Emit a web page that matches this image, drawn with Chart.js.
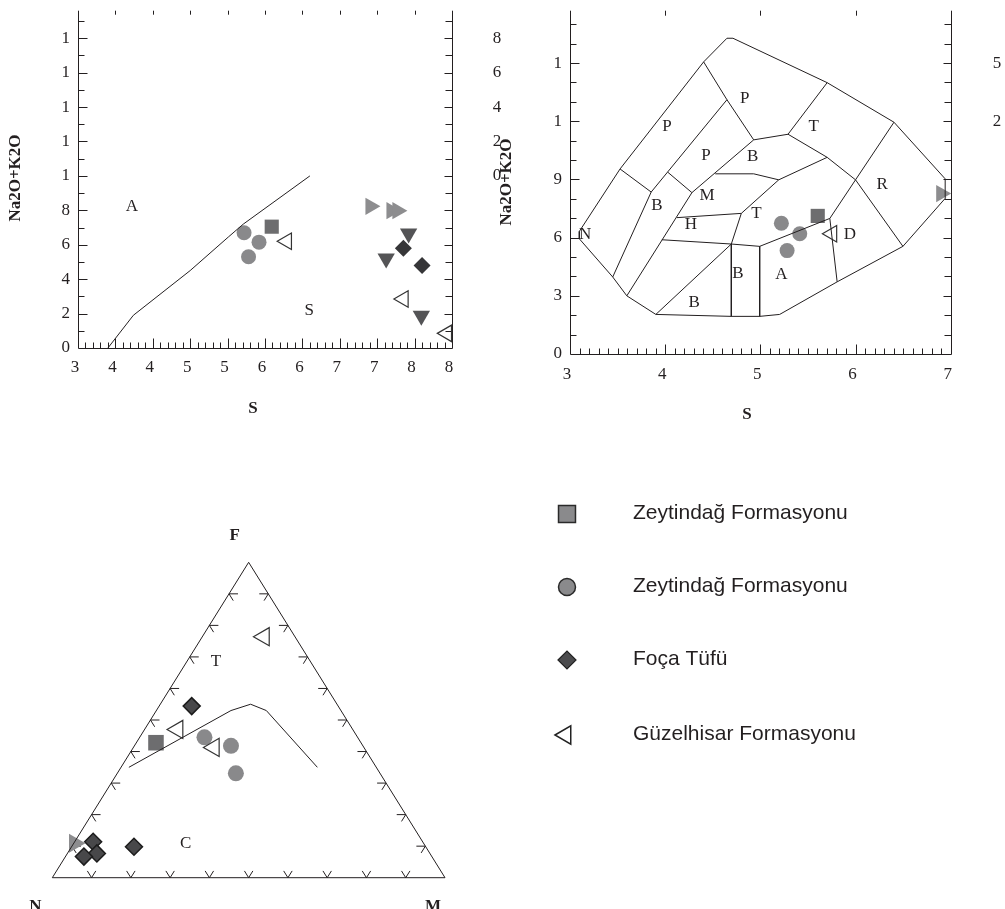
<!DOCTYPE html>
<html>
<head>
<meta charset="utf-8">
<script src="https://cdn.jsdelivr.net/npm/chart.js@4.4.0/dist/chart.umd.min.js"></script>
<style>
  body { margin: 0; background: #fff; width: 1005px; height: 909px; overflow: hidden; position: relative; }
  canvas { position: absolute; }
</style>
</head>
<body>
<canvas id="tasLeft" width="520" height="440" style="left:0;top:0"></canvas>
<canvas id="tasRight" width="515" height="440" style="left:490px;top:0"></canvas>
<canvas id="afm" width="1005" height="449" style="left:0;top:460px"></canvas>
<script>
// ---- left TAS panel (labels are cut to one character, as in the source figure)
const leftXTicks = [35, 40, 45, 50, 55, 60, 65, 70, 75, 80, 85]
const leftXLabels = ['3', '4', '4', '5', '5', '6', '6', '7', '7', '8', '8']
const leftYTicks = [0, 2, 4, 6, 8, 10, 12, 14, 16, 18]
const leftYLabels = ['0', '2', '4', '6', '8', '1', '1', '1', '1', '1']
const leftYSpillTicks = [10, 12, 14, 16, 18]
const leftYSpill = ['0', '2', '4', '6', '8']
const leftDivider = [[39, 0], [42.4, 1.9], [50, 4.5], [55.1, 6.45], [57.1, 7.2], [66, 10]]
const leftFieldNames = [[42.2, 8.2, 'A'], [65.9, 2.2, 'S']]

const leftSquare = [[60.9, 7.05]]
const leftCircles = [[57.2, 6.7], [59.2, 6.15], [57.8, 5.3]]
const leftDiamonds = [[78.5, 5.8], [81, 4.8]]
const leftOpenTri = [[62.9, 6.2], [78.5, 2.85], [84.3, 0.85]]
const leftRightTri = [[74.1, 8.23], [76.9, 7.98], [77.7, 7.98]]
const leftDownTri = [[79.2, 6.65], [76.2, 5.2], [80.9, 1.88]]

// ---- right TAS panel
const rightXTicks = [3, 4, 5, 6, 7]
const rightXLabels = ['3', '4', '5', '6', '7']
const rightYTicks = [0, 3, 6, 9, 12, 15]
const rightYLabels = ['0', '3', '6', '9', '1', '1']
const rightYSpillTicks = [12, 15]
const rightYSpill = ['2', '5']

const rightOutline = [[3.098, 5.94], [3.449, 3.97], [3.597, 3.0], [3.902, 2.04], [4.695, 1.94], [4.993, 1.94],
  [5.203, 2.04], [5.807, 3.72], [6.498, 5.55], [6.947, 8.05], [6.942, 9.03], [6.404, 11.95], [5.702, 13.99],
  [4.712, 16.28], [4.649, 16.28], [4.404, 15.06], [3.526, 9.54], [3.098, 6.32], [3.098, 5.94]]
const rightFieldLines = [
  [[3.526, 9.54], [3.853, 8.35], [3.449, 3.97]],
  [[3.853, 8.35], [4.649, 13.11], [4.404, 15.06]],
  [[4.649, 13.11], [4.93, 11.04], [5.291, 11.33], [5.702, 13.99]],
  [[5.291, 11.33], [5.702, 10.14], [6.0, 8.98], [6.404, 11.95]],
  [[6.0, 8.98], [6.498, 5.55]],
  [[4.028, 9.37], [4.281, 8.32]],
  [[4.281, 8.32], [4.93, 11.04]],
  [[4.281, 8.32], [3.597, 3.0]],
  [[4.526, 9.29], [4.93, 9.29], [5.193, 8.98]],
  [[5.702, 10.14], [5.193, 8.98], [4.8, 7.25], [4.695, 5.67], [3.902, 2.04]],
  [[4.123, 7.03], [4.8, 7.25]],
  [[3.965, 5.89], [4.695, 5.67], [4.993, 5.55], [5.73, 6.99], [6.0, 8.98]],
  [[4.695, 5.67], [4.695, 1.94]],
  [[4.993, 5.55], [4.993, 1.94]],
  [[5.73, 6.99], [5.807, 3.72]]
]
const rightFieldNames = [[4.018, 11.72, 'P'], [4.835, 13.19, 'P'], [4.428, 10.22, 'P'], [5.561, 11.72, 'T'],
  [4.919, 10.19, 'B'], [3.913, 7.68, 'B'], [4.439, 8.19, 'M'], [6.281, 8.73, 'R'], [4.958, 7.25, 'T'],
  [4.27, 6.69, 'H'], [3.158, 6.15, 'N'], [5.94, 6.15, 'D'], [4.765, 4.14, 'B'], [5.221, 4.11, 'A'], [4.305, 2.66, 'B']]

const rightSquare = [[5.603, 7.12]]
const rightCircles = [[5.221, 6.74], [5.414, 6.2], [5.281, 5.33]]
const rightOpenTri = [[5.752, 6.2]]
const rightRightTri = [[6.9, 8.27]]

// ---- AFM ternary, [F, M] in percent (N = rest)
const afmTicks = [10, 20, 30, 40, 50, 60, 70, 80, 90]
const afmFrame = [[0, 0], [100, 0], [0, 100], [0, 0]]
const afmDivider = [[35, 2], [53, 19], [55, 23], [53, 28], [35, 50]]
const afmFieldNames = [[68.5, 7.4, 'T'], [10.7, 28.6, 'C']]

const afmSquare = [[42.8, 5.0]]
const afmCircles = [[44.5, 16.5], [41.8, 24.6], [33.1, 30.2]]
const afmDiamonds = [[54.4, 8.3], [11.4, 4.7], [7.7, 7.5], [6.7, 4.7], [9.8, 15.9]]
const afmOpenTri = [[76.4, 15.7], [47.0, 8.4], [41.3, 20.5]]
const afmRightTri = [[10.9, 0.2]]

const legendNames = ['Zeytindağ Formasyonu', 'Zeytindağ Formasyonu', 'Foça Tüfü', 'Güzelhisar Formasyonu']

const ink = '#231f20'
const serif = '"Liberation Serif", "Times New Roman", serif'
const sans = '"Liberation Sans", Arial, Helvetica, sans-serif'

function pts(arr) {
  return arr.map(([x, y]) => ({ x, y }))
}

function ternary(arr) {
  return arr.map(([f, m]) => ({ x: m / 100 + f / 200, y: f / 100 }))
}

function lineSet(data) {
  return { data, showLine: true, pointRadius: 0, borderColor: ink, borderWidth: 1, fill: false, clip: false }
}

function markerSet(data, style, radius, fill, border, borderWidth, rotation) {
  return {
    data,
    showLine: false,
    clip: false,
    pointStyle: style,
    pointRadius: radius,
    pointRotation: rotation || 0,
    pointBackgroundColor: fill,
    pointBorderColor: border || fill,
    pointBorderWidth: borderWidth || 0
  }
}

const openFill = 'rgba(255,255,255,0)'

function frameAxes(cfg) {
  return {
    id: 'frame',
    beforeDatasetsDraw(chart) {
      const { ctx, chartArea: a, scales: { x, y } } = chart
      const px = v => Math.round(x.getPixelForValue(v)) + 0.5
      const py = v => Math.round(y.getPixelForValue(v)) + 0.5
      const L = Math.round(a.left) + 0.5, R = Math.round(a.right) + 0.5, B = Math.round(a.bottom) + 0.5, T = a.top
      ctx.save()
      ctx.strokeStyle = ink
      ctx.lineWidth = 1
      ctx.beginPath()
      ctx.moveTo(L, T); ctx.lineTo(L, B); ctx.lineTo(R, B); ctx.lineTo(R, T)

      const x0 = cfg.xTicks[0], x1 = cfg.xTicks[cfg.xTicks.length - 1]
      const nx = Math.round((x1 - x0) / cfg.xMinor)
      for (let i = 1; i < nx; i++) {
        const v = x0 + i * cfg.xMinor
        const major = cfg.xTicks.some(t => Math.abs(t - v) < 1e-6)
        ctx.moveTo(px(v), B); ctx.lineTo(px(v), B - (major ? 10 : 6))
        if (major) { ctx.moveTo(px(v), T); ctx.lineTo(px(v), T + cfg.topTick) }
      }
      const ny = Math.floor(y.max / cfg.yMinor)
      for (let i = 1; i <= ny; i++) {
        const v = i * cfg.yMinor
        const major = cfg.yTicks.some(t => Math.abs(t - v) < 1e-6)
        ctx.moveTo(L, py(v)); ctx.lineTo(L + (major ? 9 : 6), py(v))
        ctx.moveTo(R, py(v)); ctx.lineTo(R - (major ? 8 : 7), py(v))
      }
      ctx.stroke()

      ctx.fillStyle = ink
      ctx.font = '17px ' + serif
      ctx.textAlign = 'center'
      ctx.textBaseline = 'middle'
      cfg.xTicks.forEach((v, i) => ctx.fillText(cfg.xLabels[i], x.getPixelForValue(v) - 3, a.bottom + cfg.xLabelGap))
      cfg.ySpillTicks.forEach((v, i) => ctx.fillText(cfg.ySpill[i], cfg.spillX, y.getPixelForValue(v)))
      ctx.textAlign = 'right'
      cfg.yTicks.forEach((v, i) => ctx.fillText(cfg.yLabels[i], a.left - 8, y.getPixelForValue(v)))

      ctx.textAlign = 'center'
      cfg.names.forEach(([vx, vy, s]) => ctx.fillText(s, x.getPixelForValue(vx), y.getPixelForValue(vy)))

      ctx.font = 'bold 17px ' + serif
      ctx.fillText('S', cfg.xTitle[0], cfg.xTitle[1])
      ctx.translate(cfg.yTitle[0], cfg.yTitle[1])
      ctx.rotate(-Math.PI / 2)
      ctx.fillText('Na2O+K2O', 0, 0)
      ctx.restore()
    }
  }
}

const baseOptions = (padding, xMin, xMax, yMin, yMax) => ({
  responsive: false,
  animation: false,
  events: [],
  layout: { padding },
  plugins: { legend: { display: false }, tooltip: { enabled: false } },
  scales: {
    x: { type: 'linear', min: xMin, max: xMax, display: false },
    y: { type: 'linear', min: yMin, max: yMax, display: false }
  }
})

// left TAS
new Chart(document.getElementById('tasLeft'), {
  type: 'scatter',
  data: {
    datasets: [
      lineSet(pts(leftDivider)),
      markerSet(pts(leftCircles), 'circle', 7.5, '#89898b'),
      markerSet(pts(leftSquare), 'rect', 10, '#6d6d6f'),
      markerSet(pts(leftOpenTri), 'triangle', 9.5, openFill, '#333', 1.2, -90),
      markerSet(pts(leftRightTri), 'triangle', 10, '#8d8d8f', null, 0, 90),
      markerSet(pts(leftDownTri), 'triangle', 10, '#545456', null, 0, 180),
      markerSet(pts(leftDiamonds), 'rectRot', 8.5, '#363638')
    ]
  },
  options: baseOptions({ left: 78, right: 68, top: 5, bottom: 92 }, 35, 85, 0, 19.6),
  plugins: [frameAxes({
    xTicks: leftXTicks, xLabels: leftXLabels, xMinor: 1, topTick: 4, xLabelGap: 20,
    yTicks: leftYTicks, yLabels: leftYLabels, yMinor: 1,
    ySpillTicks: leftYSpillTicks, ySpill: leftYSpill, spillX: 497,
    names: leftFieldNames, xTitle: [253, 409], yTitle: [16, 178]
  })]
})

// right TAS
new Chart(document.getElementById('tasRight'), {
  type: 'scatter',
  data: {
    datasets: [
      lineSet(pts(rightOutline)),
      ...rightFieldLines.map(l => lineSet(pts(l))),
      markerSet(pts(rightCircles), 'circle', 7.5, '#89898b'),
      markerSet(pts(rightSquare), 'rect', 10, '#6d6d6f'),
      markerSet(pts(rightOpenTri), 'triangle', 9.5, openFill, '#333', 1.2, -90),
      markerSet(pts(rightRightTri), 'triangle', 10, '#8d8d8f', null, 0, 90)
    ]
  },
  options: baseOptions({ left: 80, right: 54.3, top: 6, bottom: 86 }, 3, 7, 0, 17.7),
  plugins: [frameAxes({
    xTicks: rightXTicks, xLabels: rightXLabels, xMinor: 0.1, topTick: 5, xLabelGap: 21,
    yTicks: rightYTicks, yLabels: rightYLabels, yMinor: 1,
    ySpillTicks: rightYSpillTicks, ySpill: rightYSpill, spillX: 507,
    names: rightFieldNames, xTitle: [257, 415], yTitle: [17, 182]
  })]
})

// AFM ternary + legend
const afmDecor = {
  id: 'afmDecor',
  beforeDatasetsDraw(chart) {
    const { ctx, scales: { x, y } } = chart
    const toPx = ([f, m]) => {
      const p = ternary([[f, m]])[0]
      return [x.getPixelForValue(p.x), y.getPixelForValue(p.y)]
    }
    const pN = toPx([0, 0]), pF = toPx([100, 0]), pM = toPx([0, 100])
    const unit = (a, b) => {
      const dx = b[0] - a[0], dy = b[1] - a[1], d = Math.hypot(dx, dy)
      return [dx / d, dy / d]
    }
    const upLeftEdge = unit(pN, pF)
    const upRightEdge = unit(pM, pF)
    const arm = (p, dir, len) => { ctx.moveTo(p[0], p[1]); ctx.lineTo(p[0] + dir[0] * len, p[1] + dir[1] * len) }
    ctx.save()
    ctx.strokeStyle = ink
    ctx.lineWidth = 1
    ctx.beginPath()
    afmTicks.forEach(t => {
      const l = toPx([t, 0]), r = toPx([t, 100 - t]), b = toPx([0, t])
      arm(l, [1, 0], 9); arm(l, [-upRightEdge[0], -upRightEdge[1]], 8)
      arm(r, [-1, 0], 9); arm(r, [-upLeftEdge[0], -upLeftEdge[1]], 8)
      arm(b, upLeftEdge, 8); arm(b, upRightEdge, 8)
    })
    ctx.stroke()

    ctx.fillStyle = ink
    ctx.textAlign = 'center'
    ctx.textBaseline = 'middle'
    ctx.font = '17px ' + serif
    afmFieldNames.forEach(([f, m, s]) => {
      const p = toPx([f, m])
      ctx.fillText(s, p[0], p[1])
    })
    ctx.font = 'bold 17px ' + serif
    ctx.fillText('F', pF[0] - 14, pF[1] - 27)
    ctx.textBaseline = 'top'
    ctx.fillText('N', pN[0] - 17, pN[1] + 20)
    ctx.fillText('M', pM[0] - 12, pM[1] + 20)
    ctx.restore()
  },
  afterDraw(chart) {
    const ctx = chart.ctx
    const rows = [54, 127, 200, 275]
    const marks = [
      { pointStyle: 'rect', radius: 12, rotation: 0, fill: '#8a8a8c', stroke: '#2a2a2a', borderWidth: 1.5 },
      { pointStyle: 'circle', radius: 8.5, rotation: 0, fill: '#8a8a8c', stroke: '#2a2a2a', borderWidth: 1.5 },
      { pointStyle: 'rectRot', radius: 9, rotation: 0, fill: '#4b4b4d', stroke: '#222', borderWidth: 1.2 },
      { pointStyle: 'triangle', radius: 10.5, rotation: -90, fill: openFill, stroke: '#222', borderWidth: 1.5 }
    ]
    ctx.save()
    marks.forEach((m, i) => {
      ctx.fillStyle = m.fill
      ctx.strokeStyle = m.stroke
      ctx.lineWidth = m.borderWidth
      Chart.helpers.drawPoint(ctx, m, i === 3 ? 565.5 : 567, rows[i])
    })
    ctx.fillStyle = ink
    ctx.font = '21px ' + sans
    ctx.textAlign = 'left'
    ctx.textBaseline = 'middle'
    legendNames.forEach((s, i) => ctx.fillText(s, 633, rows[i] - 1))
    ctx.restore()
  }
}

new Chart(document.getElementById('afm'), {
  type: 'scatter',
  data: {
    datasets: [
      lineSet(ternary(afmFrame)),
      lineSet(ternary(afmDivider)),
      markerSet(ternary(afmOpenTri), 'triangle', 10.5, openFill, '#333', 1.2, -90),
      markerSet(ternary(afmCircles), 'circle', 8, '#89898b'),
      markerSet(ternary(afmRightTri), 'triangle', 11, '#8d8d8f', null, 0, 90),
      markerSet(ternary(afmDiamonds), 'rectRot', 8.5, '#48484a', '#1c1c1c', 1.5),
      markerSet(ternary(afmSquare), 'rect', 11, '#6d6d6f')
    ]
  },
  options: baseOptions({ left: 52.3, right: 560, top: 102.3, bottom: 31.3 }, 0, 1, 0, 1),
  plugins: [afmDecor]
})
</script>
</body>
</html>
